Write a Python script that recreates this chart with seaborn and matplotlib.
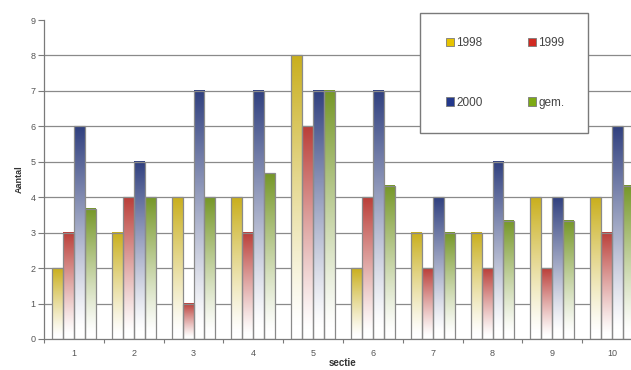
import numpy as np
import pandas as pd
import matplotlib
matplotlib.use("Agg")
import matplotlib.pyplot as plt
from matplotlib.colors import to_rgb
from matplotlib.patches import Rectangle
import seaborn as sns

# Counts per section for each year, plus the average ("gem.")
secties = ["1", "2", "3", "4", "5", "6", "7", "8", "9", "10"]
aantal_1998 = [2, 3, 4, 4, 8, 2, 3, 3, 4, 4]
aantal_1999 = [3, 4, 1, 3, 6, 4, 2, 2, 2, 3]
aantal_2000 = [6, 5, 7, 7, 7, 7, 4, 5, 4, 6]
aantal_gem = [3.67, 4, 4, 4.67, 7, 4.33, 3, 3.33, 3.33, 4.33]
reeksen = ["1998", "1999", "2000", "gem."]
kleuren = ["#E6C300", "#D02A22", "#23388C", "#7DAA14"]

df = pd.DataFrame({
    "sectie": secties * 4,
    "reeks": np.repeat(reeksen, len(secties)),
    "aantal": aantal_1998 + aantal_1999 + aantal_2000 + aantal_gem,
})

sns.set_style("white")
plt.rcParams["font.family"] = ["Liberation Sans", "DejaVu Sans"]

fig = plt.figure(figsize=(6.31, 3.70), dpi=100)
ax = fig.add_axes([44 / 631, 31 / 370, 598 / 631, 319 / 370])

sns.barplot(data=df, x="sectie", y="aantal", hue="reeks", order=secties,
            hue_order=reeksen, palette=kleuren, width=0.73, ax=ax,
            legend=False, edgecolor="#8a8a8a", linewidth=0.9, errorbar=None)

# Replace flat fills with a vertical gradient: series colour at the top, white at the bottom
ax.set_ylim(0, 9)
ax.set_xlim(-0.5, len(secties) - 0.5)
for patch in ax.patches:
    x0, y0 = patch.get_x(), patch.get_y()
    w, h = patch.get_width(), patch.get_height()
    if h <= 0:
        continue
    col = np.array(to_rgb(patch.get_facecolor()))
    t = np.linspace(0, 1, 256)[:, None]  # 0 = bottom, 1 = top
    t = np.clip((t - 0.05) / 0.95, 0, 1) ** 1.15
    grad = (1 - t) * np.ones(3) + t * col
    img = grad[:, None, :]
    ax.imshow(img, extent=(x0, x0 + w, y0, y0 + h), origin="lower",
              aspect="auto", zorder=1.5, interpolation="bilinear")
    patch.set_facecolor("none")
    patch.set_zorder(2)
ax.set_xlim(-0.5, len(secties) - 0.5)
ax.set_ylim(0, 9)

# Grid and axes
ax.set_axisbelow(True)
ax.set_yticks(range(0, 10))
for yv in range(1, 9):
    ax.axhline(yv, color="#8a8a8a", lw=0.9, zorder=0.5)
for side in ["top", "right"]:
    ax.spines[side].set_visible(False)
ax.spines["left"].set_color("#7a7a7a")
ax.spines["bottom"].set_color("#7a7a7a")
ax.spines["left"].set_linewidth(0.9)
ax.spines["bottom"].set_linewidth(0.9)

ax.tick_params(axis="y", which="major", left=True, length=4, width=0.8,
               color="#7a7a7a", labelsize=6.5, labelcolor="#555555", pad=2)
ax.tick_params(axis="x", which="major", bottom=False, labelsize=6.5,
               labelcolor="#555555", pad=4)
ax.set_xticks(np.arange(-0.5, len(secties), 1.0), minor=True)
ax.tick_params(axis="x", which="minor", bottom=True, length=3, width=0.8,
               color="#7a7a7a")

ax.set_xlabel("sectie", fontsize=7, fontweight="bold", color="#333333")
ax.xaxis.set_label_coords(0.5, -1.0 / 319 * 29, transform=ax.transAxes)
ax.xaxis.label.set_verticalalignment("bottom")
ax.set_ylabel("Aantal", fontsize=6.5, fontweight="bold", color="#333333", labelpad=5)

# Legend box with its own frame
frame = Rectangle((420 / 631, (370 - 133) / 370), 168 / 631, 120 / 370,
                  transform=fig.transFigure, facecolor="white",
                  edgecolor="#7a7a7a", lw=1.0, zorder=5)
fig.patches.append(frame)
volgorde = [0, 2, 1, 3]  # rows: 1998 | 1999, then 2000 | gem.
handles = [Rectangle((0, 0), 1, 1, facecolor=kleuren[i], edgecolor="#7a7a7a", lw=0.6)
           for i in volgorde]
labels = [reeksen[i] for i in volgorde]
leg = fig.legend(handles, labels, loc="center",
                 bbox_to_anchor=(505 / 631, (370 - 73) / 370),
                 ncol=2, frameon=False, fontsize=8.5, labelspacing=4.0,
                 columnspacing=3.8, handlelength=0.7, handleheight=0.7,
                 handletextpad=0.2)
for txt in leg.get_texts():
    txt.set_color("#444444")
leg.set_zorder(6)

fig.savefig("out.png", dpi=100, facecolor="white")
